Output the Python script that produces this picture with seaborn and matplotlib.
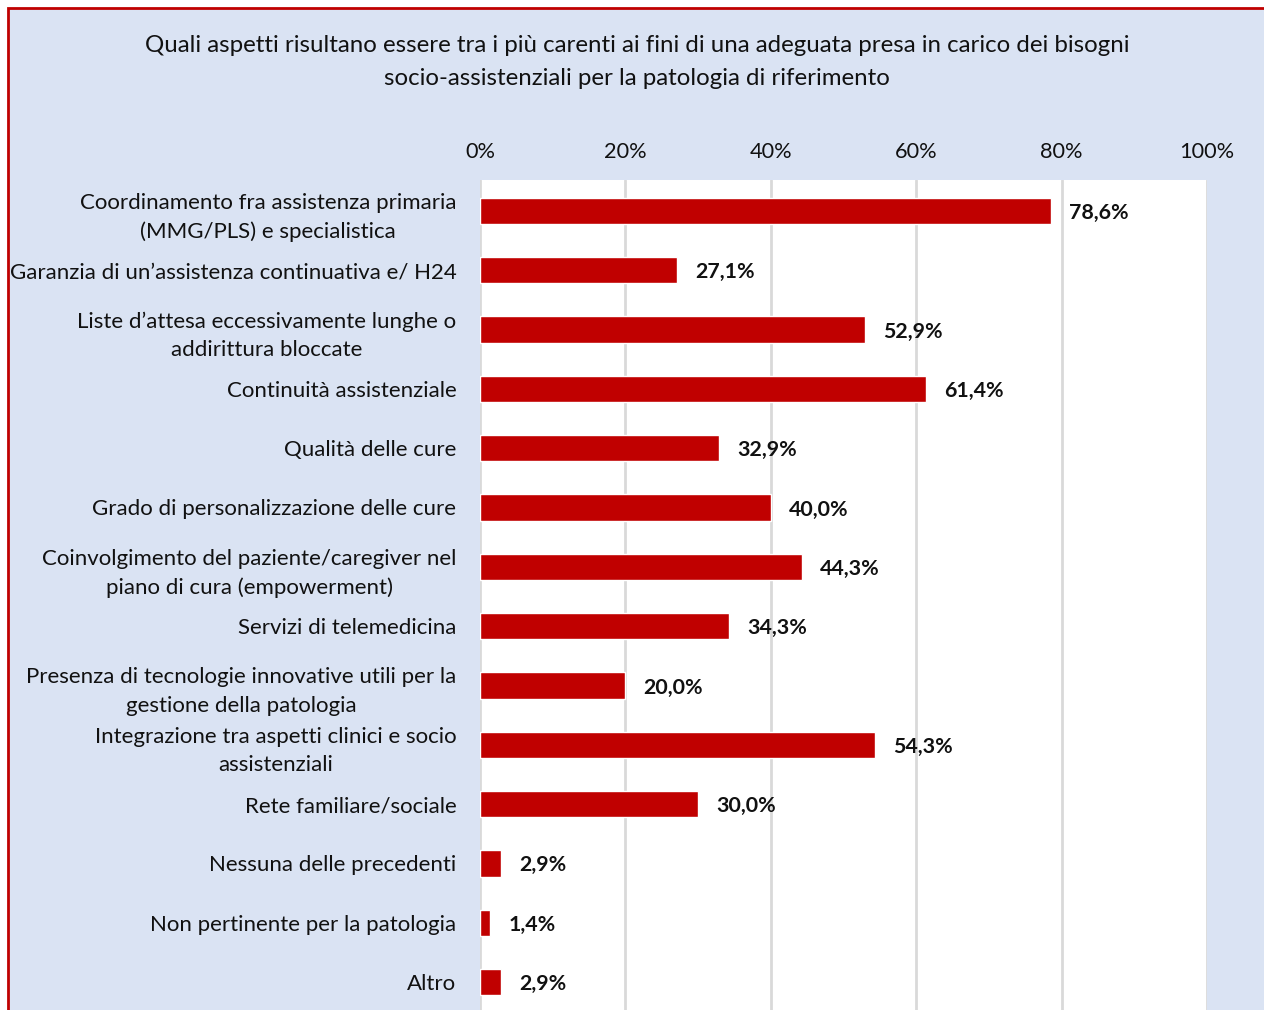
import matplotlib
matplotlib.use("Agg")
import matplotlib.pyplot as plt
import matplotlib.patches as mpatches
from matplotlib.ticker import FuncFormatter
import seaborn as sns

# dati
categorie = [
    "Coordinamento fra assistenza primaria\n(MMG/PLS) e specialistica",
    "Garanzia di un\u2019assistenza continuativa e/ H24",
    "Liste d\u2019attesa eccessivamente lunghe o\naddirittura bloccate",
    "Continuità assistenziale",
    "Qualità delle cure",
    "Grado di personalizzazione delle cure",
    "Coinvolgimento del paziente/caregiver nel\npiano di cura (empowerment)",
    "Servizi di telemedicina",
    "Presenza di tecnologie innovative utili per la\ngestione della patologia",
    "Integrazione tra aspetti clinici e socio\nassistenziali",
    "Rete familiare/sociale",
    "Nessuna delle precedenti",
    "Non pertinente per la patologia",
    "Altro",
]
valori = [78.6, 27.1, 52.9, 61.4, 32.9, 40.0, 44.3, 34.3, 20.0, 54.3, 30.0, 2.9, 1.4, 2.9]
tick_x = [0, 20, 40, 60, 80, 100]

titolo = ("Quali aspetti risultano essere tra i più carenti ai fini di una adeguata presa in carico dei bisogni\n"
          "socio-assistenziali per la patologia di riferimento")

sns.set_theme(style="white")
plt.rcParams["font.family"] = ["Lato", "DejaVu Sans"]

ROSSO = "#C00000"
AZZURRO = "#DAE3F3"

fig = plt.figure(figsize=(12.64, 10.10), dpi=100)
fig.patch.set_facecolor("white")
# cornice del grafico
cornice = mpatches.Rectangle((8 / 1264, -0.1), 1.2, 1.1 - 8 / 1010, transform=fig.transFigure,
                             facecolor=AZZURRO, edgecolor=ROSSO, linewidth=2, zorder=-10)
fig.patches.append(cornice)

ax = fig.add_axes([480 / 1264, 0.0, (1207 - 480) / 1264, 1 - 180 / 1010])
ax.set_facecolor("white")

sns.barplot(x=valori, y=categorie, orient="h", color=ROSSO, width=0.44, saturation=1, ax=ax, zorder=3)

ax.set_xlim(0, 100)
ax.set_ylim(13.47, -0.52)
ax.set_xticks(tick_x)
ax.xaxis.set_major_formatter(FuncFormatter(lambda v, p: f"{v:.0f}%"))
ax.xaxis.tick_top()
ax.grid(axis="x", color="#D9D9D9", linewidth=2, zorder=0)
ax.grid(axis="y", visible=False)
for s in ax.spines.values():
    s.set_visible(False)
ax.tick_params(axis="x", length=0, pad=13, labelsize=15.7, labelcolor="#111111")
ax.tick_params(axis="y", length=0, pad=17, labelsize=16.0, labelcolor="#111111")
for lab in ax.get_yticklabels():
    lab.set_multialignment("center")
    lab.set_linespacing(1.53)
ax.set_xlabel("")
ax.set_ylabel("")

etichette = [f"{v:.1f}%".replace(".", ",") for v in valori]
txt = ax.bar_label(ax.containers[0], labels=etichette, padding=13, fontsize=15.4, fontweight="bold", color="#111111")
for t in txt:
    t.set_va("center_baseline")

fig.text(637 / 1264, 1 - 62 / 1010, titolo, ha="center", va="center", multialignment="center",
         fontsize=17.3, color="#111111", linespacing=1.68)

fig.savefig("out.png", dpi=100, facecolor=fig.get_facecolor())
